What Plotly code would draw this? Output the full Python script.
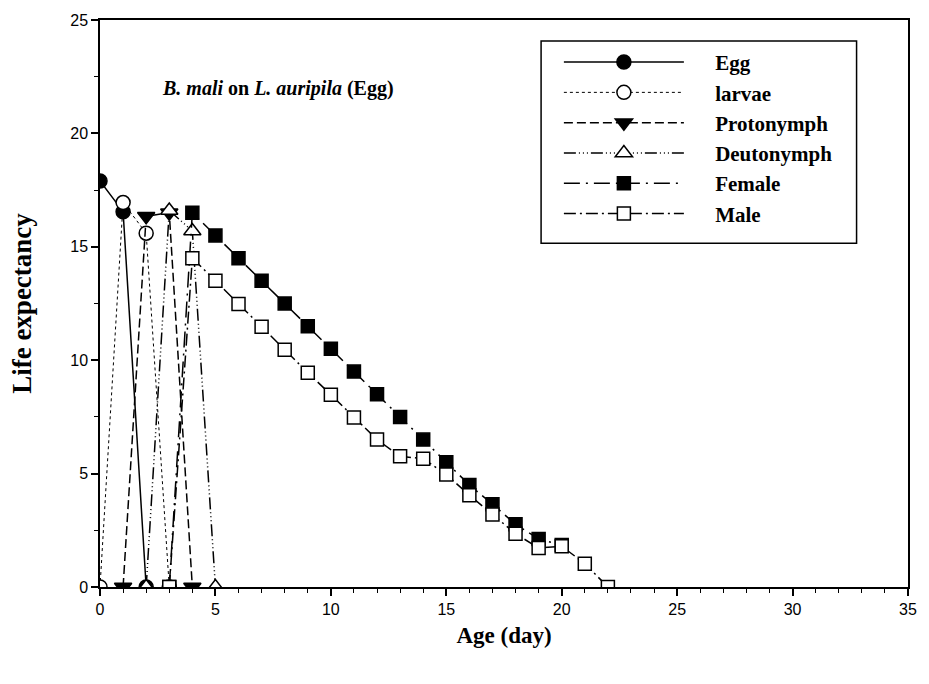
import plotly.graph_objects as go

# ---- data ----
egg_x = [0, 1, 2]
egg_y = [17.9, 16.55, 0]

larvae_x = [0, 1, 2, 3]
larvae_y = [0, 16.95, 15.6, 0]

proto_x = [1, 2, 3, 4]
proto_y = [0, 16.35, 16.5, 0]

deuto_x = [2, 3, 4, 5]
deuto_y = [0, 16.6, 15.7, 0]

female_x = [3, 4, 5, 6, 7, 8, 9, 10, 11, 12, 13, 14, 15, 16, 17, 18, 19, 20]
female_y = [0, 16.5, 15.5, 14.5, 13.5, 12.5, 11.5, 10.5, 9.5, 8.5, 7.5, 6.5,
            5.5, 4.5, 3.65, 2.77, 2.12, 1.85]

male_x = [3, 4, 5, 6, 7, 8, 9, 10, 11, 12, 13, 14, 15, 16, 17, 18, 19, 20, 21, 22]
male_y = [0, 14.5, 13.5, 12.48, 11.47, 10.46, 9.45, 8.48, 7.47, 6.5, 5.76,
          5.66, 4.96, 4.05, 3.2, 2.35, 1.72, 1.8, 1.03, 0]

x_ticks = [0, 5, 10, 15, 20, 25, 30, 35]
y_ticks = [0, 5, 10, 15, 20, 25]

series = [
    ("Egg", egg_x, egg_y, "circle", "black", "solid", 1.5, 14),
    ("larvae", larvae_x, larvae_y, "circle", "white", "dot", 1.0, 14),
    ("Protonymph", proto_x, proto_y, "triangle-down", "black", "9px,4px", 1.5, 15),
    ("Deutonymph", deuto_x, deuto_y, "triangle-up", "white",
     "12px,3px,1px,3px,1px,3px,1px,3px", 1.5, 15),
    ("Female", female_x, female_y, "square", "black", "16px,6px,2px,6px", 1.5, 13),
    ("Male", male_x, male_y, "square", "white", "12px,4px,2px,4px", 1.5, 13),
]

pad = "\u00a0" * 5

fig = go.Figure()
for name, xs, ys, sym, fill, dash, lw, ms in series:
    fig.add_trace(go.Scatter(
        x=xs, y=ys, name=pad + name, mode="lines+markers",
        line=dict(color="black", width=lw, dash=dash),
        marker=dict(symbol=sym, size=ms, color=fill,
                    line=dict(color="black", width=1.5)),
    ))

axis_common = dict(
    showline=True, linecolor="black", linewidth=1.5, mirror=True,
    ticks="outside", ticklen=7, tickwidth=1.5, tickcolor="black",
    showgrid=False, zeroline=False,
    tickfont=dict(family="Liberation Sans, Arial", size=16, color="black"),
)

fig.update_xaxes(
    range=[0, 35], tickvals=x_ticks, **axis_common,
    minor=dict(dtick=1, ticks="outside", ticklen=4, tickwidth=1.2,
               tickcolor="black", showgrid=False),
    title=dict(text="<b>Age (day)</b>", standoff=10,
               font=dict(family="Liberation Serif, Times New Roman", size=23,
                         color="black")),
)
fig.update_yaxes(
    range=[0, 25], tickvals=y_ticks, **axis_common,
    minor=dict(dtick=2.5, ticks="outside", ticklen=4, tickwidth=1.2,
               tickcolor="black", showgrid=False),
    title=dict(text="<b>Life expectancy</b>", standoff=31,
               font=dict(family="Liberation Serif, Times New Roman", size=27,
                         color="black")),
)

fig.add_annotation(
    x=0.2203, y=0.8787, xref="paper", yref="paper", showarrow=False,
    xanchor="center", yanchor="middle",
    text="<b><i>B. mali</i> on <i>L. auripila</i> (Egg)</b>",
    font=dict(family="Liberation Serif, Times New Roman", size=20, color="black"),
)

# legend frame
fig.add_shape(
    type="rect", xref="paper", yref="paper",
    x0=(546 - 100) / 817, x1=(865 - 100) / 817,
    y0=(587 - 242) / 569, y1=(587 - 39) / 569,
    line=dict(color="black", width=1.5), fillcolor="white", layer="below",
)

fig.update_layout(
    width=929, height=684,
    margin=dict(l=100, r=12, t=18, b=97),
    plot_bgcolor="white", paper_bgcolor="white",
    showlegend=True,
    legend=dict(
        x=(564 - 100) / 817, y=(587 - 40) / 569, xanchor="left", yanchor="top",
        bgcolor="rgba(0,0,0,0)", borderwidth=0,
        itemwidth=120,
        font=dict(family="Liberation Serif, Times New Roman", size=21,
                  color="black", weight="bold"),
        tracegroupgap=0,
    ),
)

fig.write_html("out.html")
